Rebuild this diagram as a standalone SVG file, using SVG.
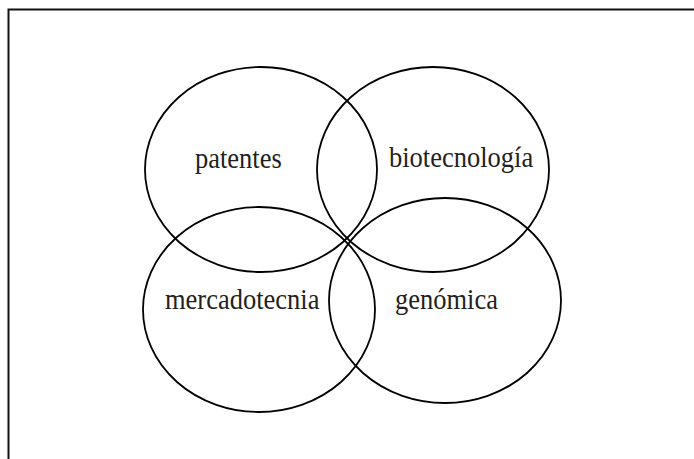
<svg xmlns="http://www.w3.org/2000/svg" width="694" height="459" viewBox="0 0 694 459">
<style>
.c{fill:none;stroke:#000;stroke-width:1.8}
.t{font-family:"Liberation Serif","Times New Roman",serif;font-size:26.5px;fill:#231f20}
</style>
<rect x="0" y="0" width="694" height="459" fill="#fff"/>
<rect x="8.5" y="9.5" width="720" height="480" fill="none" stroke="#111" stroke-width="2"/>
<g id="patentes">
<ellipse class="c" cx="261" cy="169.5" rx="116" ry="102.5"/>
<text class="t" transform="translate(195,168) scale(1,1.13)">patentes</text>
</g>
<g id="biotecnologia">
<ellipse class="c" cx="433" cy="169.5" rx="116" ry="102.5"/>
<text class="t" transform="translate(389,167) scale(1,1.13)">biotecnología</text>
</g>
<g id="mercadotecnia">
<ellipse class="c" cx="259" cy="309.5" rx="116" ry="102.5"/>
<text class="t" transform="translate(165,309) scale(1,1.13)">mercadotecnia</text>
</g>
<g id="genomica">
<ellipse class="c" cx="445" cy="300.5" rx="116" ry="102.5"/>
<text class="t" transform="translate(395,309) scale(1,1.13)">genómica</text>
</g>
</svg>
